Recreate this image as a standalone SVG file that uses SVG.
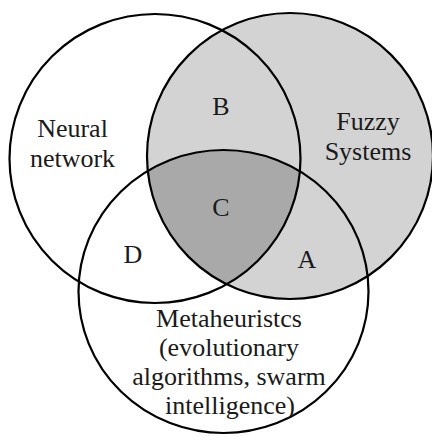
<svg xmlns="http://www.w3.org/2000/svg" width="432" height="437" viewBox="0 0 432 437">
  <style>
    .ring { fill: none; stroke: #000; stroke-width: 2.2; }
    text { font-family: 'Liberation Serif', 'DejaVu Serif', serif; font-size: 26px; fill: #1a1a1a; text-anchor: middle; }
  </style>
  <defs>
    <clipPath id="clipL"><ellipse cx="155" cy="158.5" rx="145.5" ry="144.5"/></clipPath>
    <clipPath id="clipB"><ellipse cx="223.5" cy="291.5" rx="145" ry="141.5"/></clipPath>
  </defs>
  <rect width="432" height="437" fill="#fff"/>
  <circle cx="290" cy="156" r="143" fill="#d3d3d3"/>
  <g clip-path="url(#clipL)">
    <g clip-path="url(#clipB)">
      <circle cx="290" cy="156" r="143" fill="#a9a9a9"/>
    </g>
  </g>
  <g id="neural-network">
    <ellipse class="ring" cx="155" cy="158.5" rx="145.5" ry="144.5"/>
    <text x="72.5" y="137" font-family="Liberation Serif, DejaVu Serif, serif">Neural</text>
    <text x="72.5" y="166.5" font-family="Liberation Serif, DejaVu Serif, serif">network</text>
  </g>
  <g id="fuzzy-systems">
    <circle class="ring" cx="290" cy="156" r="143"/>
    <text x="368" y="130" font-family="Liberation Serif, DejaVu Serif, serif">Fuzzy</text>
    <text x="368" y="159.5" font-family="Liberation Serif, DejaVu Serif, serif">Systems</text>
  </g>
  <g id="metaheuristics">
    <ellipse class="ring" cx="223.5" cy="291.5" rx="145" ry="141.5"/>
    <text x="229" y="326.5" font-family="Liberation Serif, DejaVu Serif, serif">Metaheuristcs</text>
    <text x="229" y="356" font-family="Liberation Serif, DejaVu Serif, serif">(evolutionary</text>
    <text x="229" y="385" font-family="Liberation Serif, DejaVu Serif, serif">algorithms, swarm</text>
    <text x="230" y="413.5" font-family="Liberation Serif, DejaVu Serif, serif">intelligence)</text>
  </g>
  <g id="regions">
    <text x="221" y="115" font-family="Liberation Serif, DejaVu Serif, serif">B</text>
    <text x="221" y="216" font-family="Liberation Serif, DejaVu Serif, serif">C</text>
    <text x="133" y="262.5" font-family="Liberation Serif, DejaVu Serif, serif">D</text>
    <text x="307" y="268" font-family="Liberation Serif, DejaVu Serif, serif">A</text>
  </g>
  <g id="connectors"/>
</svg>
